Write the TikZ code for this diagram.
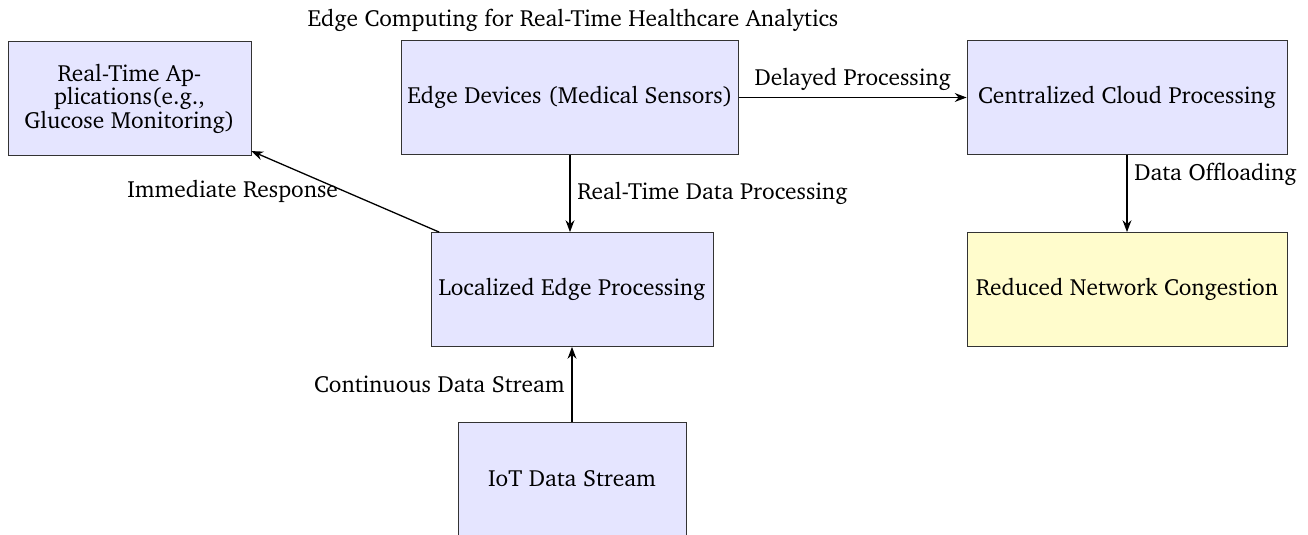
\documentclass[tikz,border=0pt]{standalone}
\usepackage[T1]{fontenc}
\usepackage{charter}
\usetikzlibrary{arrows.meta}
\begin{document}
\begin{tikzpicture}[x=1pt,y=-1pt,
  every node/.style={font=\fontsize{11.7}{11.8}\selectfont},
  box/.style={draw=black!80, fill=blue!10, minimum height=57pt, align=center, inner sep=3pt},
  ybox/.style={box, fill=yellow!20},
  conn/.style={->, >=Stealth, line width=0.65pt}]
\useasboundingbox (0,0) rectangle (654,267.5);
\node (title) at (286.5,10) {Edge Computing for Real-Time Healthcare Analytics};
\node[box, minimum width=121.5pt] (rt) at (64.75,49.25) {Real-Time Ap-\\plications(e.g.,\\Glucose Monitoring)};
\node[box, minimum width=166pt] (ed) at (285,48.75) {Edge Devices (Medical Sensors)};
\node[box, minimum width=160pt] (cc) at (563.5,48.75) {Centralized Cloud Processing};
\node[ybox, minimum width=160pt] (rn) at (563.5,144.75) {Reduced Network Congestion};
\node[box, minimum width=141pt] (le) at (286,144.75) {Localized Edge Processing};
\node[box, minimum width=114pt] (iot) at (286,239.5) {IoT Data Stream};
\draw[conn] (ed.south) -- (ed.south |- le.north) node[midway, right] {Real-Time Data Processing};
\draw[conn] (ed.east) -- (cc.west) node[midway, above] {Delayed Processing};
\draw[conn] (cc.south) -- (rn.north) node[near start, right] {Data Offloading};
\draw[conn] (le) -- (rt) node[midway, left] {Immediate Response};
\draw[conn] (iot.north) -- (iot.north |- le.south) node[midway, left] {Continuous Data Stream};
\end{tikzpicture}
\end{document}
